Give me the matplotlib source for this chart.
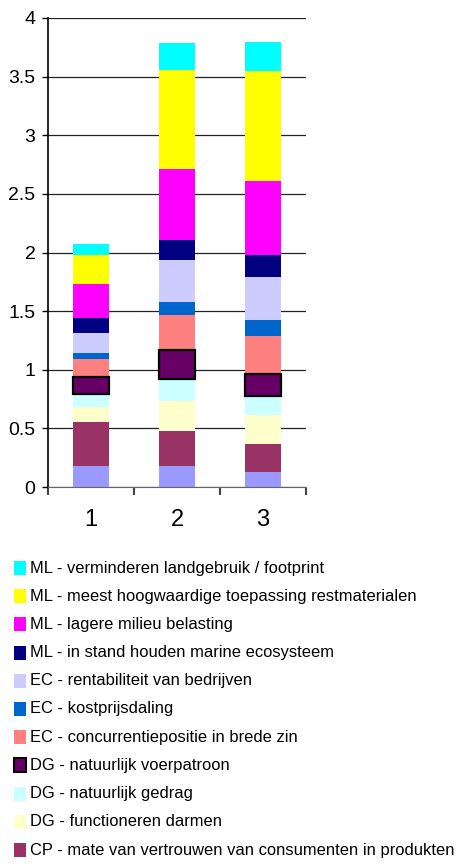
import numpy as np
import matplotlib as mpl
mpl.use('Agg')
from matplotlib import pyplot as plt
from matplotlib.patches import Rectangle

# Arial-like face, a bit narrower than DejaVu
plt.rcParams['font.family'] = ['Liberation Sans', 'DejaVu Sans']

categories = ['1', '2', '3']

# series from bottom to top of each stack
series_labels = [
    '',  # bottom series, its legend entry falls off the picture
    'CP - mate van vertrouwen van consumenten in produkten',
    'DG - functioneren darmen',
    'DG - natuurlijk gedrag',
    'DG - natuurlijk voerpatroon',
    'EC - concurrentiepositie in brede zin',
    'EC - kostprijsdaling',
    'EC - rentabiliteit van bedrijven',
    'ML - in stand houden marine ecosysteem',
    'ML - lagere milieu belasting',
    'ML - meest hoogwaardige toepassing restmaterialen',
    'ML - verminderen landgebruik / footprint',
]
series_colors = ['#9999FF', '#993366', '#FFFFCC', '#CCFFFF', '#660066', '#FF8080',
                 '#0066CC', '#CCCCFF', '#000080', '#FF00FF', '#FFFF00', '#00FFFF']

bottom_vals = [0.18, 0.18, 0.13]
cp_vertrouwen = [0.375, 0.30, 0.24]
dg_darmen = [0.13, 0.255, 0.24]
dg_gedrag = [0.11, 0.19, 0.17]
dg_voer = [0.145, 0.24, 0.18]
ec_concurrentie = [0.155, 0.30, 0.33]
ec_kostprijs = [0.05, 0.11, 0.135]
ec_rentabiliteit = [0.17, 0.365, 0.365]
ml_marine = [0.13, 0.17, 0.19]
ml_milieu = [0.29, 0.60, 0.63]
ml_restmat = [0.245, 0.845, 0.94]
ml_landgebruik = [0.095, 0.23, 0.245]

values = [bottom_vals, cp_vertrouwen, dg_darmen, dg_gedrag, dg_voer, ec_concurrentie,
          ec_kostprijs, ec_rentabiliteit, ml_marine, ml_milieu, ml_restmat, ml_landgebruik]

W, H = 460, 865
fig = plt.figure(figsize=(W / 100, H / 100), dpi=100)
renderer = fig.canvas.get_renderer()


def fit_size(text, target_px, ref=10):
    """Font size so that text is target_px wide."""
    t = fig.text(0, 0, text, fontsize=ref)
    w = t.get_window_extent(renderer).width
    t.remove()
    return ref * target_px / w


tick_size = min(fit_size('3.5', 27), 18)
leg_size = min(fit_size(series_labels[1], 424), 17)

ax = fig.add_axes([48 / W, 1 - 487 / H, 258 / W, 469 / H])

x = np.arange(1, len(categories) + 1)
base = np.zeros(len(categories))
for vals, col, lab in zip(values, series_colors, series_labels):
    if lab.startswith('DG - natuurlijk voer'):
        ax.bar(x, vals, 0.43, bottom=base, color=col, edgecolor='black', linewidth=1.6, zorder=3)
    else:
        ax.bar(x, vals, 0.43, bottom=base, color=col, linewidth=0, zorder=2)
    base += np.array(vals)

ax.set_xlim(0.5, 3.5)
ax.set_ylim(0, 4)
ax.set_yticks(np.arange(0, 4.01, 0.5))
ax.set_yticklabels(['0', '0.5', '1', '1.5', '2', '2.5', '3', '3.5', '4'])
ax.yaxis.grid(True, color='#222222', linewidth=0.9, zorder=0)
ax.set_axisbelow(True)
ax.tick_params(axis='y', length=4, width=1, labelsize=tick_size, pad=5)

ax.set_xticks([0.5, 1.5, 2.5, 3.5])
ax.set_xticklabels([])
ax.set_xticks(x, minor=True)
ax.set_xticklabels(categories, minor=True)
ax.tick_params(axis='x', which='major', length=6, width=1.5, color='#444444')
ax.tick_params(axis='x', which='minor', length=0, labelsize=17, pad=16)

for s in ['top', 'right']:
    ax.spines[s].set_visible(False)
ax.spines['left'].set_linewidth(1.2)
ax.spines['bottom'].set_color('#666666')

# legend drawn by hand: top series first, the last row is below the picture
rows = list(zip(series_colors, series_labels))[::-1][:11]
for i, (col, lab) in enumerate(rows):
    yc = 568 + i * 28.2
    is_voer = lab.startswith('DG - natuurlijk voer')
    fig.add_artist(Rectangle((14 / W, 1 - (yc + 7) / H), 12 / W, 14 / H,
                             transform=fig.transFigure, facecolor=col,
                             edgecolor='black' if is_voer else 'none',
                             linewidth=1.5 if is_voer else 0))
    fig.text(30 / W, 1 - yc / H, lab, fontsize=leg_size, va='center', ha='left')

fig.savefig('out.png')
